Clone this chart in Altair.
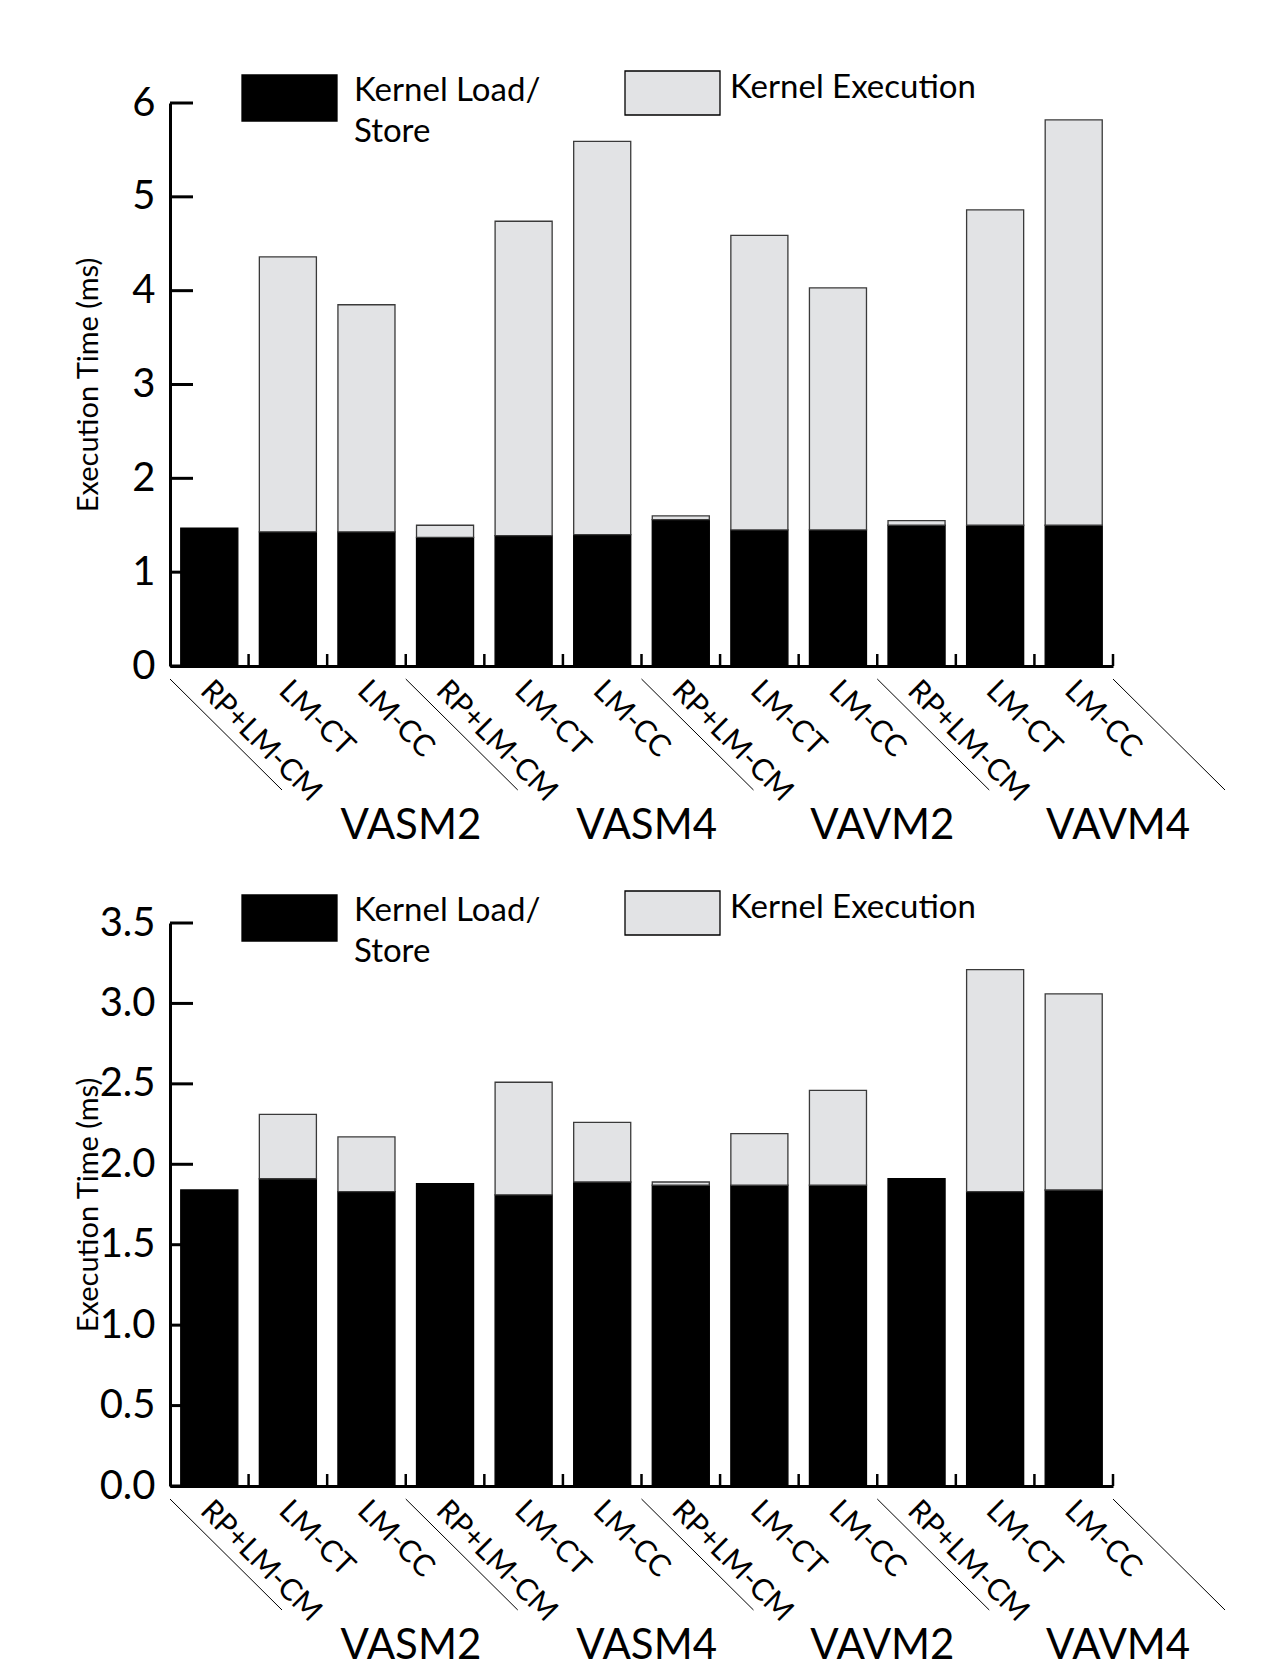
import altair as alt
import pandas as pd

# ---------------- data ----------------
CONFIGS = ["RP+LM-CM", "LM-CT", "LM-CC"]
GROUPS = ["VASM2", "VASM4", "VAVM2", "VAVM4"]
SERIES = ["Kernel Load/ Store", "Kernel Execution"]
LEGEND_TEXT = ["Kernel Load/\nStore", "Kernel Execution"]

# top panel (ms)
TOP_LOAD = [1.47, 1.43, 1.43, 1.37, 1.39, 1.40, 1.56, 1.45, 1.45, 1.50, 1.50, 1.50]
TOP_EXEC = [0.00, 2.93, 2.42, 0.13, 3.35, 4.19, 0.04, 3.14, 2.58, 0.05, 3.36, 4.32]
TOP_TICKS = [0, 1, 2, 3, 4, 5, 6]

# bottom panel (ms)
BOT_LOAD = [1.84, 1.91, 1.83, 1.88, 1.81, 1.89, 1.87, 1.87, 1.87, 1.91, 1.83, 1.84]
BOT_EXEC = [0.00, 0.40, 0.34, 0.00, 0.70, 0.37, 0.02, 0.32, 0.59, 0.00, 1.38, 1.22]
BOT_TICKS = [0.0, 0.5, 1.0, 1.5, 2.0, 2.5, 3.0, 3.5]

# ---------------- style ----------------
FONT = "Lato"
W, H = 943, 563
GREY = "#E2E3E5"
NB = len(CONFIGS) * len(GROUPS)

color_scale = alt.Scale(domain=SERIES, range=["#000000", GREY])
stroke_scale = alt.Scale(domain=SERIES, range=["#000000", "#3a3a3a"])


def make_panel(load, exe, ticks, fmt):
    rows = []
    for g, grp in enumerate(GROUPS):
        for c, cfg in enumerate(CONFIGS):
            i = g * len(CONFIGS) + c
            rows.append(dict(idx=i, group=grp, config=cfg, series=SERIES[0],
                             lo=0.0, hi=load[i]))
            if exe[i] > 0:
                rows.append(dict(idx=i, group=grp, config=cfg, series=SERIES[1],
                                 lo=load[i], hi=load[i] + exe[i]))
    seg = pd.DataFrame(rows)
    meta = pd.DataFrame({"idx": list(range(NB)),
                         "config": CONFIGS * len(GROUPS)})
    gdf = pd.DataFrame({"g": list(range(len(GROUPS))), "group": GROUPS})
    bdf = pd.DataFrame({"b": [g * len(CONFIGS) for g in range(len(GROUPS) + 1)]})
    tdf = pd.DataFrame({"v": ticks})
    ldf = pd.DataFrame({"series": SERIES, "label": LEGEND_TEXT})

    xs = alt.Scale(domain=[0, NB], nice=False, zero=False)
    ys = alt.Scale(domain=[0, ticks[-1]], nice=False, zero=True)

    yaxis = alt.Axis(values=ticks, format=fmt, grid=False, ticks=False, tickSize=0,
                     domainColor="black", domainWidth=3,
                     labelFont=FONT, labelFontSize=40, labelColor="black",
                     labelPadding=15,
                     title="Execution Time (ms)", titleFont=FONT, titleFontSize=29,
                     titleFontWeight="normal", titleColor="black",
                     titleX=-82, titleY=H / 2, titleAngle=270,
                     titleAlign="center", titleBaseline="middle")
    xaxis = alt.Axis(grid=False, ticks=False, labels=False, title=None,
                     domainColor="black", domainWidth=3)

    def X(field):
        return alt.X(field, scale=xs, axis=xaxis, title=None)

    def Y(field):
        return alt.Y(field, scale=ys, axis=yaxis, title="Execution Time (ms)")

    bars = alt.Chart(seg).transform_calculate(
        x0="datum.idx + 0.137", x1="datum.idx + 0.863"
    ).mark_rect(strokeWidth=1.3).encode(
        x=X("x0:Q"),
        x2="x1:Q",
        y=Y("hi:Q"),
        y2="lo:Q",
        fill=alt.Fill("series:N", scale=color_scale, legend=None),
        stroke=alt.Stroke("series:N", scale=stroke_scale, legend=None),
    )

    ytick = alt.Chart(tdf).mark_rule(color="black", strokeWidth=3).encode(
        y=Y("v:Q"),
        x=alt.value(0), x2=alt.value(23),
    )

    xtick = alt.Chart(meta).transform_calculate(e="datum.idx + 1").mark_rule(
        color="black", strokeWidth=2.5
    ).encode(
        x=X("e:Q"),
        y=alt.value(H), y2=alt.value(H - 12),
    )

    diag = alt.Chart(bdf).mark_rule(color="black", strokeWidth=1, x2Offset=112).encode(
        x=X("b:Q"),
        x2="b:Q",
        y=alt.value(H + 13), y2=alt.value(H + 124),
    )

    clab = alt.Chart(meta).transform_calculate(c="datum.idx + 0.5").mark_text(
        angle=45, align="left", baseline="middle", font=FONT, fontSize=30,
        color="black", xOffset=-4
    ).encode(
        x=X("c:Q"),
        y=alt.value(H + 20),
        text="config:N",
    )

    glab = alt.Chart(gdf).transform_calculate(
        c=f"datum.g * {len(CONFIGS)} + {len(CONFIGS) / 2}"
    ).mark_text(
        align="center", baseline="alphabetic", font=FONT, fontSize=42,
        color="black", xOffset=123
    ).encode(
        x=X("c:Q"),
        y=alt.value(H + 173),
        text="group:N",
    )

    # legend (swatch + label for each series)
    legend_layers = []
    spots = [dict(x=72, y=-28, h=46, tx=184, ty=-2),
             dict(x=455, y=-32, h=44, tx=560, ty=-5)]
    for s, sp in zip(SERIES, spots):
        legend_layers.append(
            alt.Chart(ldf).transform_filter(alt.datum.series == s).mark_rect(
                stroke="black", strokeWidth=1.3
            ).encode(
                x=alt.value(sp["x"]), x2=alt.value(sp["x"] + 95),
                y=alt.value(sp["y"]), y2=alt.value(sp["y"] + sp["h"]),
                fill=alt.Fill("series:N", scale=color_scale, legend=None),
            )
        )
        legend_layers.append(
            alt.Chart(ldf).transform_filter(alt.datum.series == s).mark_text(
                align="left", baseline="alphabetic", font=FONT, fontSize=33,
                lineHeight=41, lineBreak="\n", color="black"
            ).encode(
                x=alt.value(sp["tx"]), y=alt.value(sp["ty"]),
                text="label:N",
            )
        )

    return alt.layer(bars, ytick, xtick, diag, clab, glab, *legend_layers).properties(
        width=W, height=H
    )


top = make_panel(TOP_LOAD, TOP_EXEC, TOP_TICKS, "d")
bottom = make_panel(BOT_LOAD, BOT_EXEC, BOT_TICKS, ".1f")

chart = alt.vconcat(top, bottom, spacing=43).properties(
    padding={"left": 66, "top": 62, "right": 5, "bottom": 5},
    background="white",
).configure_view(stroke=None)

chart.save("out.html", embed_options={"renderer": "svg", "actions": False})
